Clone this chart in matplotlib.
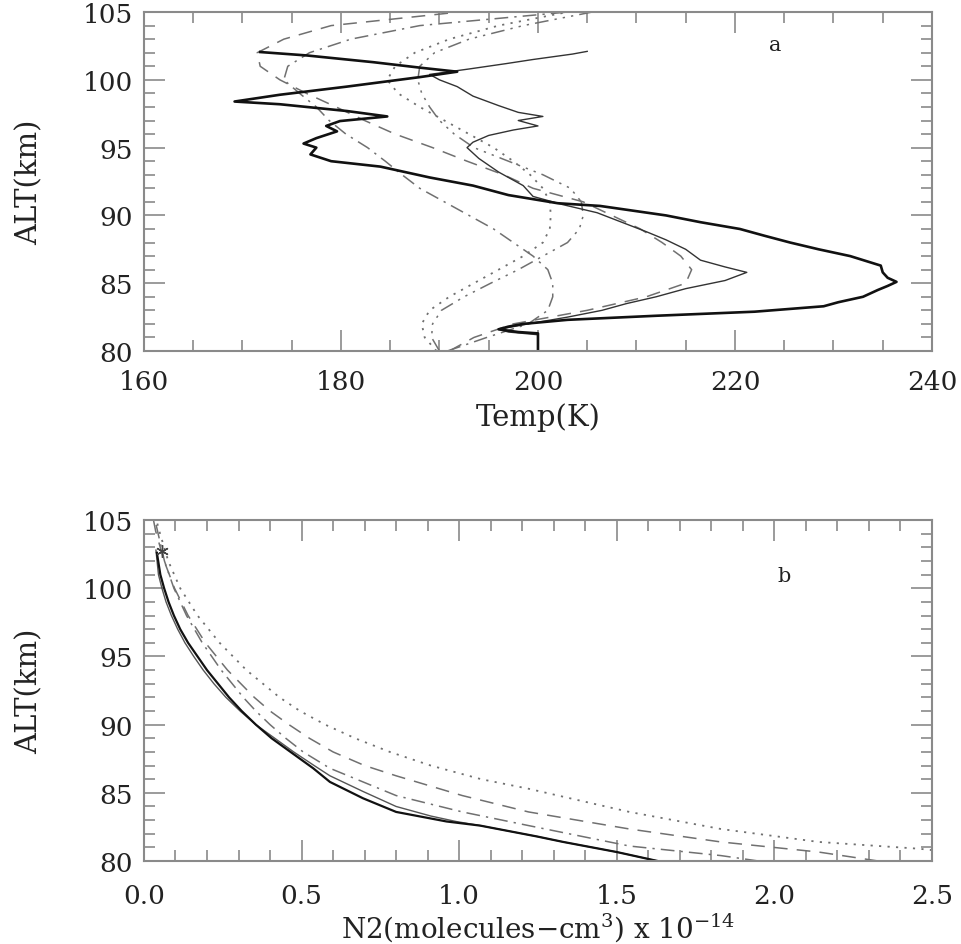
import matplotlib
matplotlib.use('Agg')
import matplotlib.pyplot as plt
from matplotlib.ticker import MultipleLocator, FormatStrFormatter

# ---- panel a: temperature profiles (altitude km, temperature K) ----
lidar1_alt = [80.0, 81.3, 81.4, 81.6, 81.8, 82.0, 82.3, 82.6, 82.9, 83.3, 83.6, 84.0, 84.5,
              84.8, 85.1, 85.4, 85.8, 86.3, 87.0, 87.5, 88.0, 88.5, 89.0, 89.5, 90.0, 90.7,
              90.9, 91.5, 92.2, 92.8, 93.6, 94.0, 94.5, 95.0, 95.3, 95.7, 96.2, 96.6, 96.96,
              97.3, 97.7, 98.2, 98.4, 98.9, 99.5, 100.2, 100.6, 100.9, 101.3, 101.8, 102.05]
lidar1_T = [200, 200, 198, 196, 197, 198.5, 203, 212, 222, 229, 230.5, 233, 234.5,
            235.5, 236.4, 235.5, 235, 234.8, 231.7, 228.5, 225.6, 223, 220.5, 216.5, 213, 206.3,
            202, 197, 193.4, 189, 184, 179, 176.9, 177.5, 176.2, 177.5, 179.6, 178.5, 179.9,
            184.7, 180.6, 173.8, 169.2, 173.8, 180.6, 188.0, 191.8, 188, 183.3, 176.5, 171.8]

lidar2_alt = [80.0, 81.2, 81.4, 81.6, 82.0, 82.5, 83.0, 83.5, 84.0, 84.6, 85.2, 85.8, 86.2,
              86.7, 87.5, 88.2, 88.8, 89.5, 90.2, 90.8, 91.4, 92.2, 93.2, 94.2, 95.0, 95.4,
              95.9, 96.3, 96.6, 97.0, 97.3, 97.6, 98.1, 98.8, 99.5, 100.0, 100.4, 100.8,
              101.2, 101.5, 101.9, 102.1]
lidar2_T = [200, 200, 197, 196, 199, 203, 206.5, 209, 212, 215, 219, 221.2, 219,
            216.5, 215, 213, 211, 208.5, 206, 202.5, 199.5, 198.5, 196, 194, 192.8, 193.4,
            195, 197.5, 200, 198, 200.5, 198, 196, 193.4, 191.8, 190, 189, 193,
            196.8, 199.5, 203.5, 205]

model_alt = [80.0, 81.0, 82.0, 83.0, 84.0, 85.0, 86.0, 87.0, 88.0, 89.0, 90.0, 91.0, 92.0,
             93.0, 94.0, 95.0, 96.0, 97.0, 98.0, 99.0, 100.0, 101.0, 102.0, 103.0, 104.0, 105.0]
dashed_T = [191, 193.5, 197.5, 205, 211, 215, 215.6, 214.5, 212.6, 210.4, 207.5, 204.6, 199.5,
            196.5, 192.8, 189.3, 185.5, 182.4, 179.5, 176.5, 173.8, 171.8, 171.5, 174.2, 179, 192]
dashdot_T = [190.8, 194.8, 199.0, 201.0, 201.5, 201.5, 201.0, 199.5, 197.5, 195.5, 193.0, 190.5, 188.0,
             186.2, 184.5, 182.7, 180.5, 178.8, 177.5, 175.8, 174.2, 174.6, 176.8, 181.0, 188, 203]
dotted_T = [189.7, 188.5, 188.2, 189.0, 191.0, 193.5, 196.0, 198.5, 200.5, 201.2, 201.3, 201.2, 200.5,
            199.2, 197.5, 195.5, 193.0, 190.5, 188.0, 185.8, 184.7, 185.5, 187.5, 191.0, 196, 203]
dash3dot_T = [190.0, 189.2, 189.3, 190.2, 192.5, 195.2, 198.0, 200.5, 203.0, 204.2, 204.6, 204.4, 203.3,
              200.5, 197.0, 193.5, 191.5, 190.0, 189.0, 188.2, 187.8, 188.0, 189.5, 193.0, 198.5, 205.5]

# ---- panel b: N2 density (x 1e14 cm^-3) ----
n2_lidar1_alt = [80.0, 80.66, 81.4, 81.8, 82.6, 82.9, 83.6, 84.6, 85.8, 86.8, 88.0, 89.0,
                 90.0, 91.0, 92.0, 93.0, 94.0, 95.0, 96.0, 97.0, 98.0, 99.0, 100.0, 101.0, 102.6]
n2_lidar1 = [1.63, 1.50, 1.33, 1.247, 1.066, 0.96, 0.80, 0.695, 0.59, 0.537, 0.465, 0.405,
             0.355, 0.31, 0.27, 0.235, 0.20, 0.17, 0.14, 0.115, 0.095, 0.078, 0.064, 0.052, 0.041]
n2_lidar2_alt = [80.0, 80.66, 81.4, 81.8, 82.6, 82.9, 83.3, 84.0, 85.1, 86.25, 87.0, 88.0,
                 89.0, 90.0, 91.0, 92.0, 93.0, 94.0, 95.0, 96.0, 97.0, 98.0, 99.0, 100.0, 101.0, 102.8]
n2_lidar2 = [1.63, 1.50, 1.33, 1.247, 1.066, 0.99, 0.91, 0.80, 0.695, 0.59, 0.54, 0.475,
             0.415, 0.355, 0.305, 0.26, 0.222, 0.188, 0.158, 0.13, 0.107, 0.087, 0.07, 0.057, 0.046, 0.038]
n2_dashdot_alt = [80.0, 80.4, 81.1, 82.6, 83.6, 84.8, 86.8, 88.0, 89.0, 90.0, 91.0, 92.0,
                  94.0, 96.0, 98.0, 100.0, 102.0, 104.0, 105.5]
n2_dashdot = [1.95, 1.83, 1.54, 1.22, 1.01, 0.80, 0.59, 0.505, 0.45, 0.40, 0.355, 0.315,
              0.245, 0.185, 0.135, 0.095, 0.065, 0.045, 0.03]
n2_dashed_alt = [80.0, 80.66, 81.4, 82.35, 83.6, 84.8, 86.25, 87.0, 88.0, 89.0, 90.0, 91.0,
                 92.0, 94.0, 96.0, 98.0, 100.0, 102.0, 104.2, 105.5]
n2_dashed = [2.33, 2.14, 1.83, 1.54, 1.22, 1.01, 0.80, 0.70, 0.60, 0.525, 0.46, 0.40,
             0.35, 0.265, 0.195, 0.14, 0.097, 0.064, 0.037, 0.026]
n2_dotted_alt = [80.8, 80.9, 81.4, 82.35, 83.6, 85.3, 86.0, 87.0, 88.0, 89.0, 90.0, 91.0,
                 92.0, 94.0, 96.0, 98.0, 100.0, 102.0, 104.4, 105.5]
n2_dotted = [2.5, 2.46, 2.14, 1.83, 1.54, 1.22, 1.07, 0.91, 0.78, 0.67, 0.575, 0.495,
             0.43, 0.325, 0.24, 0.17, 0.115, 0.077, 0.046, 0.035]
star_x, star_alt = 0.057, 102.7

plt.rcParams['font.family'] = ['DejaVu Serif']
plt.rcParams['mathtext.fontset'] = 'dejavuserif'

fig = plt.figure(figsize=(9.61, 9.45), dpi=100)
ax1 = fig.add_axes([0.1498, 0.6275, 0.82, 0.3587])
ax2 = fig.add_axes([0.1498, 0.0878, 0.82, 0.3608])

gray = '#707070'
txt = '#222222'
for ax in (ax1, ax2):
    for s in ax.spines.values():
        s.set_color('#8a8a8a')
        s.set_linewidth(1.5)
    ax.tick_params(which='both', direction='in', top=True, right=True, colors='#8a8a8a',
                   labelcolor=txt, labelsize=19, width=1.2)
    ax.tick_params(which='major', length=15, pad=8)
    ax.tick_params(which='minor', length=8)
    ax.set_ylim(80, 105)
    ax.yaxis.set_major_locator(MultipleLocator(5))
    ax.yaxis.set_minor_locator(MultipleLocator(1))
    ax.set_ylabel('ALT(km)', fontsize=21, color=txt, labelpad=28)

ax1.tick_params(axis='x', pad=13)
ax2.tick_params(axis='x', pad=16)

# panel a
ax1.plot(dashed_T, model_alt, color=gray, lw=1.1, dashes=(9, 6))
ax1.plot(dashdot_T, model_alt, color=gray, lw=1.1, dashes=(9, 4, 1.5, 4))
ax1.plot(dotted_T, model_alt, color=gray, lw=1.3, dashes=(1.2, 3.5))
ax1.plot(dash3dot_T, model_alt, color=gray, lw=1.1, dashes=(9, 4, 1.5, 4, 1.5, 4, 1.5, 4))
ax1.plot(lidar2_T, lidar2_alt, color='#333333', lw=1.0)
ax1.plot(lidar1_T, lidar1_alt, color='#111111', lw=1.9)
ax1.set_xlim(160, 240)
ax1.xaxis.set_major_locator(MultipleLocator(20))
ax1.xaxis.set_minor_locator(MultipleLocator(5))
ax1.set_xlabel('Temp(K)', fontsize=21, color=txt, labelpad=6)
ax1.text(224.1, 102.6, 'a', fontsize=15, ha='center', va='center', color=txt)

# panel b
ax2.plot(n2_dotted, n2_dotted_alt, color=gray, lw=1.3, dashes=(1.2, 3.5))
ax2.plot(n2_dashed, n2_dashed_alt, color=gray, lw=1.1, dashes=(9, 6))
ax2.plot(n2_dashdot, n2_dashdot_alt, color=gray, lw=1.1, dashes=(9, 4, 1.5, 4))
ax2.plot(n2_lidar2, n2_lidar2_alt, color='#555555', lw=1.0)
ax2.plot(n2_lidar1, n2_lidar1_alt, color='#111111', lw=1.6)
ax2.plot([star_x], [star_alt], marker=(6, 2, 0), ms=9, color='#444444', mew=1.0)
ax2.set_xlim(0, 2.5)
ax2.xaxis.set_major_locator(MultipleLocator(0.5))
ax2.xaxis.set_minor_locator(MultipleLocator(0.1))
ax2.xaxis.set_major_formatter(FormatStrFormatter('%.1f'))
ax2.set_xlabel(r'N2(molecules$-$cm$^3$) x 10$^{-14}$', fontsize=20, color=txt)
ax2.xaxis.set_label_coords(0.5, -0.145)
ax2.text(2.03, 100.9, 'b', fontsize=15, ha='center', va='center', color=txt)

fig.savefig('out.png', dpi=100)
